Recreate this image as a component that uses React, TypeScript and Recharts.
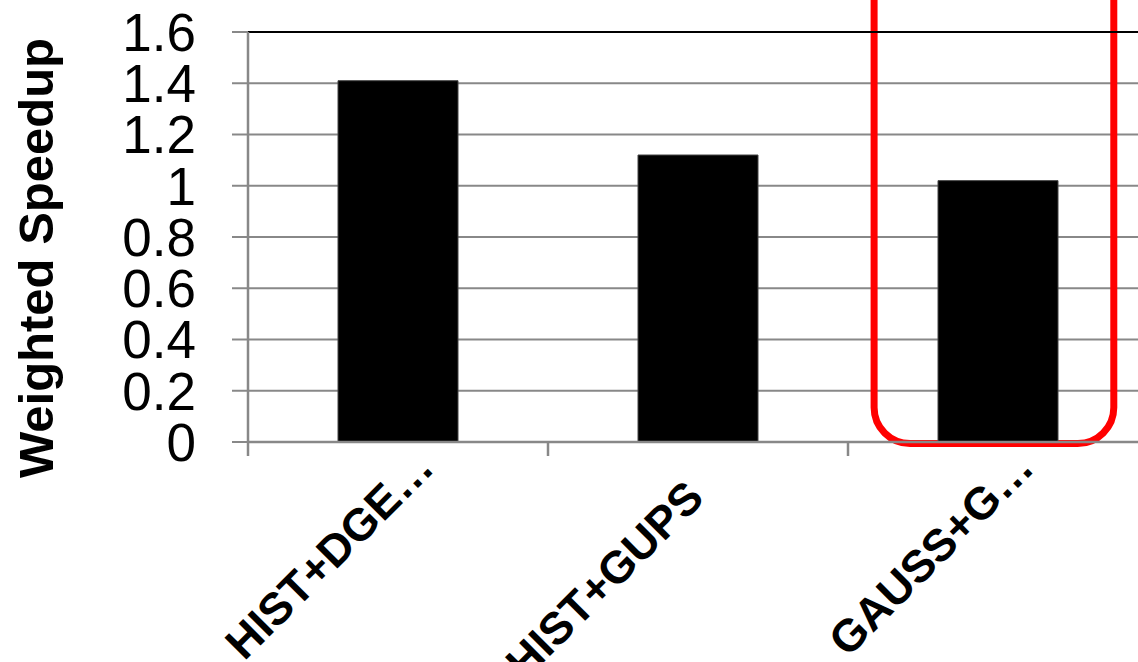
import React from "react";
import {
  BarChart,
  Bar,
  XAxis,
  YAxis,
  CartesianGrid,
  ReferenceLine,
  ReferenceArea,
} from "recharts";

const categories = ["HIST+DGE…", "HIST+GUPS", "GAUSS+G…"];
const speedups = [1.41, 1.12, 1.02];
const yTicks = [0, 0.2, 0.4, 0.6, 0.8, 1, 1.2, 1.4, 1.6];
const highlighted = "GAUSS+G…";

const data = categories.map((name, i) => ({ name, speedup: speedups[i] }));

const FONT = "'Liberation Sans', Arial, sans-serif";
const GREY = "#888888";

function CategoryTick(props: any) {
  const { x, y, payload } = props;
  const half = payload && payload.offset ? payload.offset : 150;
  const label = String(payload.value);
  // Excel pushes the full (non-truncated) label a bit further down its slant
  const shift = label.endsWith("…") ? 0 : 30;
  return (
    <g>
      <line x1={x - half} y1={y} x2={x - half} y2={y + 14} stroke={GREY} strokeWidth={2.5} />
      <text
        x={0}
        y={0}
        transform={`translate(${x + 38 - shift},${y + 28 + shift}) rotate(-45)`}
        textAnchor="end"
        fontFamily={FONT}
        fontWeight="bold"
        fontSize={45}
        fill="#000"
      >
        {label}
      </text>
    </g>
  );
}

function YLabel(props: any) {
  const vb = props.viewBox || { x: 0, y: 32, width: 248, height: 410 };
  const cx = vb.x + 53;
  const cy = vb.y + vb.height / 2 + 21;
  return (
    <text
      x={cx}
      y={cy}
      transform={`rotate(-90 ${cx} ${cy})`}
      textAnchor="middle"
      fontFamily={FONT}
      fontWeight="bold"
      fontSize={49}
      fill="#000"
    >
      Weighted Speedup
    </text>
  );
}

// rounded red box around the highlighted bar
function HighlightBox(props: any) {
  const { x, y, width, height } = props;
  const left = x + width * 0.087;
  const right = x + width * 0.886;
  const bottom = y + height + 1.5;
  const top = y - 80;
  return (
    <rect
      x={left}
      y={top}
      width={right - left}
      height={bottom - top}
      rx={36}
      ry={36}
      fill="none"
      stroke="#ff0000"
      strokeWidth={7}
    />
  );
}

export default function App() {
  return (
    <div
      style={{
        position: "fixed",
        left: 0,
        top: 0,
        width: 1138,
        height: 662,
        overflow: "hidden",
        background: "#fff",
      }}
    >
      <BarChart
        width={1160}
        height={662}
        data={data}
        margin={{ top: 32, right: 12, bottom: 0, left: 0 }}
        style={{ overflow: "visible" }}
      >
        <CartesianGrid vertical={false} stroke={GREY} strokeWidth={2} />
        <XAxis
          dataKey="name"
          height={220}
          tickSize={0}
          tickMargin={0}
          tick={<CategoryTick />}
          interval={0}
          axisLine={{ stroke: GREY, strokeWidth: 2.5 }}
        />
        <YAxis
          width={248}
          domain={[0, 1.6]}
          ticks={yTicks}
          interval={0}
          tickSize={16}
          tickMargin={36}
          tick={{ fontFamily: FONT, fontSize: 53, fill: "#000" }}
          tickLine={{ stroke: GREY, strokeWidth: 2 }}
          axisLine={{ stroke: GREY, strokeWidth: 2.5 }}
          label={<YLabel />}
        />
        <ReferenceLine y={1.6} stroke="#000" strokeWidth={2} />
        <Bar
          dataKey="speedup"
          fill="#000"
          stroke="#444"
          strokeWidth={1}
          barSize={120}
          isAnimationActive={false}
        />
        <ReferenceArea
          x1={highlighted}
          x2={highlighted}
          y1={0}
          y2={1.6}
          ifOverflow="visible"
          shape={<HighlightBox />}
        />
      </BarChart>
    </div>
  );
}
